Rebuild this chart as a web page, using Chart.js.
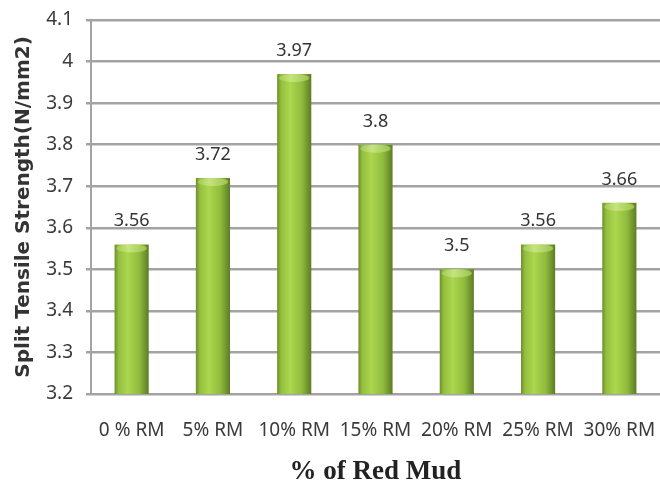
<!DOCTYPE html>
<html>
<head>
<meta charset="utf-8">
<script src="https://cdn.jsdelivr.net/npm/chart.js@4.4.1/dist/chart.umd.min.js"></script>
<style>
  html, body { margin: 0; padding: 0; background: #fff; }
  #wrap { width: 660px; height: 491px; position: relative; }
</style>
</head>
<body>
<div id="wrap"><canvas id="strength-chart"></canvas></div>
<script>
// Split tensile strength for each red mud replacement level
const categories = ['0 % RM', '5% RM', '10% RM', '15% RM', '20% RM', '25% RM', '30% RM'];
const strengths = [3.56, 3.72, 3.97, 3.8, 3.5, 3.56, 3.66];
const valueLabels = ['3.56', '3.72', '3.97', '3.8', '3.5', '3.56', '3.66'];
const yTicks = [3.2, 3.3, 3.4, 3.5, 3.6, 3.7, 3.8, 3.9, 4, 4.1];

const BAR_PCT = 0.42;

// Cylinder-style shading: darker edges, light green towards the left middle
function barGradient(context) {
  const chart = context.chart;
  const xScale = chart.scales.x;
  if (!xScale || context.dataIndex === undefined) return '#8fb83c';
  const cx = xScale.getPixelForValue(context.dataIndex);
  const w = (xScale.width / categories.length) * BAR_PCT;
  if (!Number.isFinite(cx) || !Number.isFinite(w) || w <= 0) return '#8fb83c';
  const g = chart.ctx.createLinearGradient(cx - w / 2, 0, cx + w / 2, 0);
  g.addColorStop(0, '#6e8e2c');
  g.addColorStop(0.12, '#94c03e');
  g.addColorStop(0.38, '#abd64e');
  g.addColorStop(0.72, '#90bc3c');
  g.addColorStop(1, '#5c7c24');
  return g;
}

// lighter rounded cap on top of each bar
const barCaps = {
  id: 'barCaps',
  afterDatasetsDraw(chart) {
    const ctx = chart.ctx;
    ctx.save();
    chart.getDatasetMeta(0).data.forEach((bar) => {
      const g = ctx.createLinearGradient(bar.x - bar.width / 2, 0, bar.x + bar.width / 2, 0);
      g.addColorStop(0, '#9cc652');
      g.addColorStop(0.4, '#c6e47c');
      g.addColorStop(1, '#98c04c');
      ctx.beginPath();
      ctx.ellipse(bar.x, bar.y + 4, bar.width / 2 - 2, 4, 0, 0, Math.PI * 2);
      ctx.fillStyle = g;
      ctx.fill();
    });
    ctx.restore();
  },
};

// Value labels above the bars
const valueText = {
  id: 'valueText',
  afterDatasetsDraw(chart) {
    const ctx = chart.ctx;
    ctx.save();
    ctx.font = '18px "Noto Sans", sans-serif';
    ctx.fillStyle = '#333';
    ctx.textAlign = 'center';
    ctx.textBaseline = 'alphabetic';
    chart.getDatasetMeta(0).data.forEach((bar, i) => {
      ctx.fillText(valueLabels[i], bar.x, bar.y - 18);
    });
    ctx.restore();
  },
};

const ctx = document.getElementById('strength-chart').getContext('2d');
new Chart(ctx, {
  type: 'bar',
  data: {
    labels: categories,
    datasets: [
      {
        label: 'Split Tensile Strength',
        data: strengths,
        backgroundColor: barGradient,
        borderWidth: 0,
        categoryPercentage: 1,
        barPercentage: BAR_PCT,
      },
    ],
  },
  options: {
    responsive: true,
    maintainAspectRatio: false,
    animation: false,
    layout: { padding: { top: 20, right: 0, left: 0, bottom: 0 } },
    plugins: {
      legend: { display: false },
      tooltip: { enabled: false },
    },
    scales: {
      x: {
        afterFit: (scale) => {
          scale.height = 97;
          scale.paddingLeft = 0;
          scale.paddingRight = 0;
        },
        grid: { display: false, drawTicks: false },
        border: { display: true, color: '#a3a3a3', width: 2 },
        ticks: {
          color: '#3a3a3a',
          font: { family: '"Noto Sans", sans-serif', size: 19 },
          padding: 25,
          maxRotation: 0,
          autoSkip: false,
        },
        title: {
          display: true,
          text: '% of Red Mud',
          color: '#222',
          font: { family: '"Liberation Serif", serif', size: 27, weight: 'bold' },
          padding: { top: 0, bottom: 3 },
        },
      },
      y: {
        min: 3.2,
        max: 4.1,
        afterBuildTicks: (scale) => {
          scale.ticks = yTicks.map((v) => ({ value: v }));
        },
        afterFit: (scale) => {
          scale.width = 91;
          scale.paddingTop = 0;
          scale.paddingBottom = 0;
        },
        grid: { color: '#a3a3a3', lineWidth: 2.5, tickLength: 5 },
        border: { display: true, color: '#a3a3a3', width: 2 },
        ticks: {
          color: '#3a3a3a',
          font: { family: '"Noto Sans", sans-serif', size: 19 },
          padding: 13,
          callback: (v) => String(Math.round(v * 10) / 10),
        },
        title: {
          display: true,
          text: 'Split Tensile Strength(N/mm2)',
          color: '#333',
          font: { family: '"DejaVu Sans", sans-serif', size: 20, weight: 'bold' },
          padding: { top: 12, bottom: 0 },
        },
      },
    },
  },
  plugins: [barCaps, valueText],
});
</script>
</body>
</html>
